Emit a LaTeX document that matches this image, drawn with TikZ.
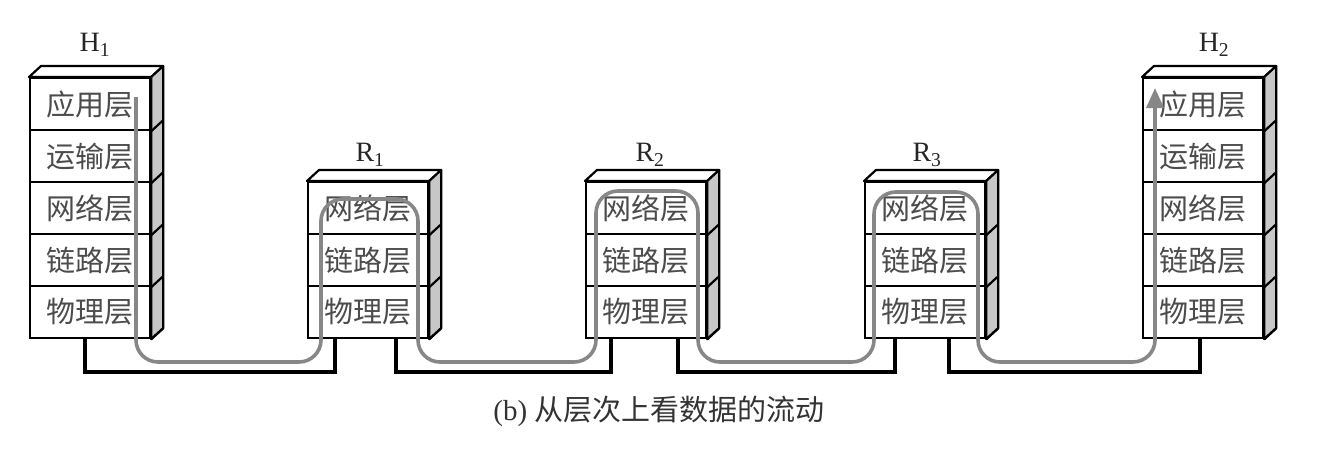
\documentclass[tikz,border=0pt]{standalone}
\usepackage{fontspec}
\setmainfont{Liberation Serif}
\newfontfamily\cjk{Noto Sans CJK SC}
\usetikzlibrary{arrows.meta,calc}
\newcommand\mkstack[4]{%
  \foreach \t [count=\i] in {#4} {
    \node[layer] (#1\i) at (#2, #3+52*\i-52) {\t};
  }
}
\newcommand\mkfaces[2]{%
  \draw[topface] (#11.north west) -- ++(12,-11) -- ($(#11.north east)+(12,-11)$) -- (#11.north east) -- cycle;
  \draw[sideface] (#11.north east) -- ++(12,-11) -- ($(#1#2.south east)+(12,-11)$) -- (#1#2.south east) -- cycle;
  \foreach \j in {1,...,#2} { \draw[edge] (#1\j.south east) -- ++(12,-11); }
}
\begin{document}
\begin{tikzpicture}[x=1pt,y=-1pt,
  layer/.style={draw=black, line width=2.2pt, minimum width=120pt, minimum height=52pt, inner sep=0pt,
    font=\cjk\fontsize{29}{29}\selectfont, text=black!70, anchor=north west, fill=white},
  sideface/.style={draw=black, line width=2.2pt, fill=black!22, line join=round},
  topface/.style={draw=black, line width=2.2pt, fill=white, line join=round},
  edge/.style={draw=black, line width=2.2pt},
  wire/.style={draw=black, line width=3.6pt, line join=miter},
  flow/.style={draw=black!47, line width=3.6pt, rounded corners=22pt},
  lbl/.style={font=\fontsize{28}{28}\selectfont, text=black!85}
]
\useasboundingbox (0,0) rectangle (1324,458);

% stacks
\mkstack{h1l}{29}{77}{应用层,运输层,网络层,链路层,物理层}
\mkstack{r1l}{307}{181}{网络层,链路层,物理层}
\mkstack{r2l}{585}{181}{网络层,链路层,物理层}
\mkstack{r3l}{864}{181}{网络层,链路层,物理层}
\mkstack{h2l}{1142}{77}{应用层,运输层,网络层,链路层,物理层}
\mkfaces{h1l}{5}
\mkfaces{r1l}{3}
\mkfaces{r2l}{3}
\mkfaces{r3l}{3}
\mkfaces{h2l}{5}

% labels
\node[lbl] (lh1) at (95,45) {H\textsubscript{1}};
\node[lbl] (lr1) at (370,155) {R\textsubscript{1}};
\node[lbl] (lr2) at (650,155) {R\textsubscript{2}};
\node[lbl] (lr3) at (927,155) {R\textsubscript{3}};
\node[lbl] (lh2) at (1214,45) {H\textsubscript{2}};

% wires
\coordinate (w1a) at (85,338);  \coordinate (w1b) at (335,338);
\coordinate (w2a) at (396,338); \coordinate (w2b) at (611,338);
\coordinate (w3a) at (678,338); \coordinate (w3b) at (895,338);
\coordinate (w4a) at (949,338); \coordinate (w4b) at (1200,338);
\draw[wire] (w1a) -- (85,372) -- (335,372) -- (w1b);
\draw[wire] (w2a) -- (396,372) -- (611,372) -- (w2b);
\draw[wire] (w3a) -- (678,372) -- (895,372) -- (w3b);
\draw[wire] (w4a) -- (949,372) -- (1200,372) -- (w4b);

% data flow
\coordinate (fs) at (136,97);
\coordinate (fe) at (1155,88);
\draw[flow, -{Triangle[width=17pt,length=20pt]}] (fs) -- (136,362) -- (321,362) -- (321,199) -- (418,199) -- (418,362)
  -- (596,362) -- (596,191) -- (698,191) -- (698,362)
  -- (874,362) -- (874,192) -- (978,192) -- (978,362)
  -- (1155,362) -- (fe);

% caption
\node[font=\fontsize{29}{29}\selectfont, text=black!80] (cap) at (659,411) {(b) {\cjk 从层次上看数据的流动}};
\end{tikzpicture}
\end{document}
